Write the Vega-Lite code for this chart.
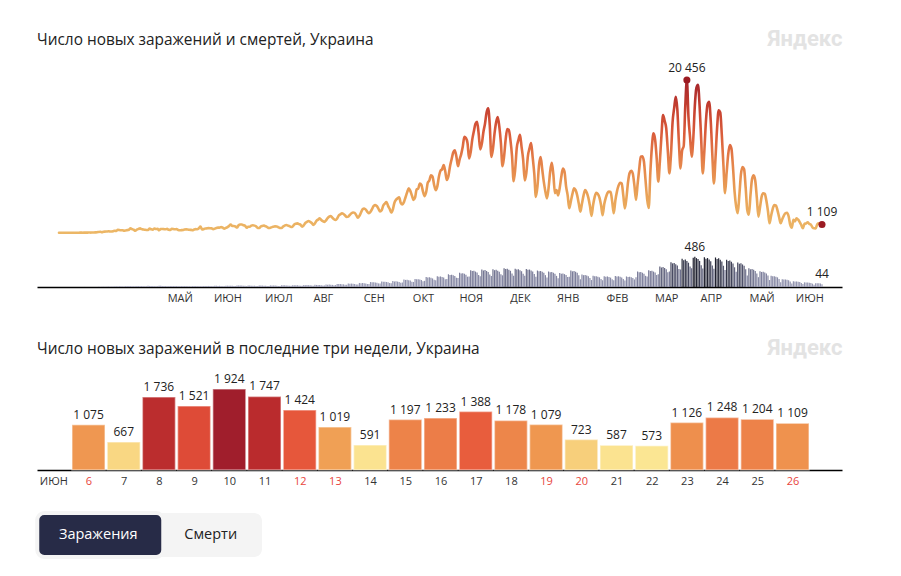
{
 "$schema": "https://vega.github.io/schema/vega-lite/v6.json",
 "padding": {"left": 35, "top": 27, "right": 10, "bottom": 5},
 "background": "white",
 "config": {
  "font": "Open Sans",
  "view": {"stroke": null},
  "locale": {"number": {"decimal": ",", "thousands": " ", "grouping": [3], "currency": ["", ""]}},
  "title": {"anchor": "start", "fontSize": 15.4, "fontWeight": "normal", "color": "#222222", "font": "Open Sans", "frame": "group"},
  "axis": {"grid": false, "ticks": false, "labelFont": "Open Sans", "labelFontSize": 11, "labelColor": "#333333", "domainColor": "#000000", "domainWidth": 1.5, "title": null},
  "legend": {"disable": true}
 },
 "datasets": {
  "caseMarks": [{"d":"2021-04-02","c":20456},{"d":"2021-06-26","c":1109}],
  "deathMarks": [{"d":"2021-04-07","m":486},{"d":"2021-06-26","m":44}],
  "buttons": [{"b":"Заражения"},{"b":"Смерти"}],
  "daily": [
{"d":"2020-03-03","c":1,"m":0},{"d":"2020-03-04","c":0,"m":0},{"d":"2020-03-05","c":0,"m":0},{"d":"2020-03-06","c":0,"m":0},{"d":"2020-03-07","c":0,"m":0},{"d":"2020-03-08","c":0,"m":0},
{"d":"2020-03-09","c":0,"m":0},{"d":"2020-03-10","c":0,"m":0},{"d":"2020-03-11","c":0,"m":0},{"d":"2020-03-12","c":0,"m":0},{"d":"2020-03-13","c":2,"m":1},{"d":"2020-03-14","c":0,"m":0},{"d":"2020-03-15","c":0,"m":0},
{"d":"2020-03-16","c":4,"m":0},{"d":"2020-03-17","c":7,"m":1},{"d":"2020-03-18","c":2,"m":0},{"d":"2020-03-19","c":10,"m":1},{"d":"2020-03-20","c":15,"m":0},{"d":"2020-03-21","c":6,"m":0},{"d":"2020-03-22","c":26,"m":1},
{"d":"2020-03-23","c":16,"m":1},{"d":"2020-03-24","c":34,"m":1},{"d":"2020-03-25","c":29,"m":2},{"d":"2020-03-26","c":43,"m":0},{"d":"2020-03-27","c":62,"m":2},{"d":"2020-03-28","c":100,"m":3},{"d":"2020-03-29","c":119,"m":2},
{"d":"2020-03-30","c":63,"m":4},{"d":"2020-03-31","c":133,"m":5},{"d":"2020-04-01","c":149,"m":3},{"d":"2020-04-02","c":157,"m":6},{"d":"2020-04-03","c":186,"m":8},{"d":"2020-04-04","c":171,"m":5},{"d":"2020-04-05","c":166,"m":6},
{"d":"2020-04-06","c":190,"m":7},{"d":"2020-04-07","c":255,"m":10},{"d":"2020-04-08","c":235,"m":12},{"d":"2020-04-09","c":374,"m":9},{"d":"2020-04-10","c":356,"m":11},{"d":"2020-04-11","c":321,"m":12},{"d":"2020-04-12","c":325,"m":8},
{"d":"2020-04-13","c":257,"m":10},{"d":"2020-04-14","c":304,"m":15},{"d":"2020-04-15","c":343,"m":13},{"d":"2020-04-16","c":397,"m":16},{"d":"2020-04-17","c":578,"m":14},{"d":"2020-04-18","c":477,"m":12},{"d":"2020-04-19","c":392,"m":11},
{"d":"2020-04-20","c":261,"m":11},{"d":"2020-04-21","c":415,"m":17},{"d":"2020-04-22","c":502,"m":15},{"d":"2020-04-23","c":578,"m":14},{"d":"2020-04-24","c":477,"m":16},{"d":"2020-04-25","c":433,"m":13},{"d":"2020-04-26","c":392,"m":12},
{"d":"2020-04-27","c":366,"m":12},{"d":"2020-04-28","c":376,"m":19},{"d":"2020-04-29","c":540,"m":17},{"d":"2020-04-30","c":455,"m":18},{"d":"2020-05-01","c":418,"m":15},{"d":"2020-05-02","c":550,"m":14},{"d":"2020-05-03","c":502,"m":11},
{"d":"2020-05-04","c":507,"m":13},{"d":"2020-05-05","c":325,"m":20},{"d":"2020-05-06","c":487,"m":19},{"d":"2020-05-07","c":504,"m":18},{"d":"2020-05-08","c":477,"m":17},{"d":"2020-05-09","c":457,"m":16},{"d":"2020-05-10","c":507,"m":13},
{"d":"2020-05-11","c":400,"m":11},{"d":"2020-05-12","c":375,"m":18},{"d":"2020-05-13","c":528,"m":17},{"d":"2020-05-14","c":484,"m":16},{"d":"2020-05-15","c":454,"m":17},{"d":"2020-05-16","c":481,"m":15},{"d":"2020-05-17","c":356,"m":12},
{"d":"2020-05-18","c":325,"m":11},{"d":"2020-05-19","c":340,"m":17},{"d":"2020-05-20","c":354,"m":16},{"d":"2020-05-21","c":416,"m":15},{"d":"2020-05-22","c":442,"m":16},{"d":"2020-05-23","c":432,"m":14},{"d":"2020-05-24","c":389,"m":12},
{"d":"2020-05-25","c":379,"m":10},{"d":"2020-05-26","c":328,"m":16},{"d":"2020-05-27","c":417,"m":15},{"d":"2020-05-28","c":477,"m":16},{"d":"2020-05-29","c":468,"m":14},{"d":"2020-05-30","c":600,"m":13},{"d":"2020-05-31","c":820,"m":11},
{"d":"2020-06-01","c":450,"m":11},{"d":"2020-06-02","c":480,"m":18},{"d":"2020-06-03","c":551,"m":17},{"d":"2020-06-04","c":577,"m":16},{"d":"2020-06-05","c":615,"m":17},{"d":"2020-06-06","c":604,"m":15},{"d":"2020-06-07","c":581,"m":13},
{"d":"2020-06-08","c":473,"m":12},{"d":"2020-06-09","c":541,"m":20},{"d":"2020-06-10","c":643,"m":19},{"d":"2020-06-11","c":680,"m":18},{"d":"2020-06-12","c":683,"m":19},{"d":"2020-06-13","c":753,"m":17},{"d":"2020-06-14","c":671,"m":14},
{"d":"2020-06-15","c":546,"m":13},{"d":"2020-06-16","c":638,"m":22},{"d":"2020-06-17","c":758,"m":21},{"d":"2020-06-18","c":883,"m":20},{"d":"2020-06-19","c":1106,"m":21},{"d":"2020-06-20","c":895,"m":19},{"d":"2020-06-21","c":894,"m":16},
{"d":"2020-06-22","c":836,"m":16},{"d":"2020-06-23","c":689,"m":26},{"d":"2020-06-24","c":1000,"m":25},{"d":"2020-06-25","c":1100,"m":24},{"d":"2020-06-26","c":1100,"m":24},{"d":"2020-06-27","c":1000,"m":22},{"d":"2020-06-28","c":950,"m":19},
{"d":"2020-06-29","c":654,"m":15},{"d":"2020-06-30","c":800,"m":24},{"d":"2020-07-01","c":800,"m":23},{"d":"2020-07-02","c":950,"m":22},{"d":"2020-07-03","c":1000,"m":22},{"d":"2020-07-04","c":950,"m":21},{"d":"2020-07-05","c":850,"m":17},
{"d":"2020-07-06","c":640,"m":15},{"d":"2020-07-07","c":630,"m":24},{"d":"2020-07-08","c":850,"m":23},{"d":"2020-07-09","c":900,"m":23},{"d":"2020-07-10","c":950,"m":22},{"d":"2020-07-11","c":860,"m":21},{"d":"2020-07-12","c":750,"m":17},
{"d":"2020-07-13","c":620,"m":15},{"d":"2020-07-14","c":650,"m":25},{"d":"2020-07-15","c":750,"m":24},{"d":"2020-07-16","c":800,"m":24},{"d":"2020-07-17","c":850,"m":23},{"d":"2020-07-18","c":830,"m":21},{"d":"2020-07-19","c":720,"m":18},
{"d":"2020-07-20","c":640,"m":17},{"d":"2020-07-21","c":620,"m":28},{"d":"2020-07-22","c":820,"m":27},{"d":"2020-07-23","c":950,"m":27},{"d":"2020-07-24","c":1030,"m":26},{"d":"2020-07-25","c":950,"m":24},{"d":"2020-07-26","c":880,"m":20},
{"d":"2020-07-27","c":760,"m":19},{"d":"2020-07-28","c":840,"m":30},{"d":"2020-07-29","c":1100,"m":29},{"d":"2020-07-30","c":1200,"m":29},{"d":"2020-07-31","c":1250,"m":28},{"d":"2020-08-01","c":1150,"m":26},{"d":"2020-08-02","c":1050,"m":22},
{"d":"2020-08-03","c":820,"m":20},{"d":"2020-08-04","c":1000,"m":32},{"d":"2020-08-05","c":1300,"m":30},{"d":"2020-08-06","c":1450,"m":31},{"d":"2020-08-07","c":1570,"m":29},{"d":"2020-08-08","c":1450,"m":28},{"d":"2020-08-09","c":1300,"m":23},
{"d":"2020-08-10","c":1030,"m":22},{"d":"2020-08-11","c":1250,"m":35},{"d":"2020-08-12","c":1600,"m":33},{"d":"2020-08-13","c":1750,"m":34},{"d":"2020-08-14","c":1930,"m":32},{"d":"2020-08-15","c":1700,"m":30},{"d":"2020-08-16","c":1550,"m":25},
{"d":"2020-08-17","c":1450,"m":25},{"d":"2020-08-18","c":1650,"m":40},{"d":"2020-08-19","c":1950,"m":38},{"d":"2020-08-20","c":2150,"m":39},{"d":"2020-08-21","c":2240,"m":37},{"d":"2020-08-22","c":2000,"m":34},{"d":"2020-08-23","c":1800,"m":29},
{"d":"2020-08-24","c":1700,"m":31},{"d":"2020-08-25","c":1900,"m":50},{"d":"2020-08-26","c":2300,"m":48},{"d":"2020-08-27","c":2450,"m":49},{"d":"2020-08-28","c":2600,"m":46},{"d":"2020-08-29","c":2500,"m":43},{"d":"2020-08-30","c":2300,"m":36},
{"d":"2020-08-31","c":2100,"m":35},{"d":"2020-09-01","c":2150,"m":57},{"d":"2020-09-02","c":2400,"m":54},{"d":"2020-09-03","c":2600,"m":55},{"d":"2020-09-04","c":2700,"m":52},{"d":"2020-09-05","c":2650,"m":49},{"d":"2020-09-06","c":2350,"m":41},
{"d":"2020-09-07","c":2000,"m":40},{"d":"2020-09-08","c":2250,"m":65},{"d":"2020-09-09","c":2700,"m":62},{"d":"2020-09-10","c":3150,"m":63},{"d":"2020-09-11","c":3250,"m":60},{"d":"2020-09-12","c":3100,"m":56},{"d":"2020-09-13","c":2800,"m":47},
{"d":"2020-09-14","c":2600,"m":50},{"d":"2020-09-15","c":2800,"m":80},{"d":"2020-09-16","c":3200,"m":76},{"d":"2020-09-17","c":3600,"m":78},{"d":"2020-09-18","c":3700,"m":74},{"d":"2020-09-19","c":3550,"m":69},{"d":"2020-09-20","c":3200,"m":58},
{"d":"2020-09-21","c":2850,"m":55},{"d":"2020-09-22","c":3000,"m":88},{"d":"2020-09-23","c":3650,"m":84},{"d":"2020-09-24","c":3900,"m":85},{"d":"2020-09-25","c":4100,"m":81},{"d":"2020-09-26","c":3600,"m":76},{"d":"2020-09-27","c":3200,"m":63},
{"d":"2020-09-28","c":2700,"m":59},{"d":"2020-09-29","c":3100,"m":95},{"d":"2020-09-30","c":4000,"m":90},{"d":"2020-10-01","c":4400,"m":92},{"d":"2020-10-02","c":4600,"m":87},{"d":"2020-10-03","c":4750,"m":82},{"d":"2020-10-04","c":4000,"m":68},
{"d":"2020-10-05","c":3800,"m":74},{"d":"2020-10-06","c":4100,"m":120},{"d":"2020-10-07","c":4750,"m":114},{"d":"2020-10-08","c":5400,"m":116},{"d":"2020-10-09","c":5950,"m":110},{"d":"2020-10-10","c":5600,"m":103},{"d":"2020-10-11","c":5000,"m":86},
{"d":"2020-10-12","c":4400,"m":81},{"d":"2020-10-13","c":4700,"m":130},{"d":"2020-10-14","c":5800,"m":124},{"d":"2020-10-15","c":5900,"m":126},{"d":"2020-10-16","c":6600,"m":120},{"d":"2020-10-17","c":6400,"m":112},{"d":"2020-10-18","c":5500,"m":94},
{"d":"2020-10-19","c":4900,"m":99},{"d":"2020-10-20","c":5450,"m":160},{"d":"2020-10-21","c":6700,"m":152},{"d":"2020-10-22","c":7000,"m":155},{"d":"2020-10-23","c":7700,"m":147},{"d":"2020-10-24","c":7500,"m":138},{"d":"2020-10-25","c":6400,"m":115},
{"d":"2020-10-26","c":5700,"m":109},{"d":"2020-10-27","c":6200,"m":175},{"d":"2020-10-28","c":7500,"m":166},{"d":"2020-10-29","c":8300,"m":170},{"d":"2020-10-30","c":8500,"m":161},{"d":"2020-10-31","c":9050,"m":151},{"d":"2020-11-01","c":8200,"m":126},
{"d":"2020-11-02","c":7050,"m":127},{"d":"2020-11-03","c":7600,"m":205},{"d":"2020-11-04","c":8900,"m":195},{"d":"2020-11-05","c":9850,"m":199},{"d":"2020-11-06","c":10750,"m":189},{"d":"2020-11-07","c":11050,"m":176},{"d":"2020-11-08","c":10200,"m":148},
{"d":"2020-11-09","c":8900,"m":143},{"d":"2020-11-10","c":9800,"m":230},{"d":"2020-11-11","c":10500,"m":219},{"d":"2020-11-12","c":11500,"m":223},{"d":"2020-11-13","c":12850,"m":212},{"d":"2020-11-14","c":12700,"m":198},{"d":"2020-11-15","c":12000,"m":166},
{"d":"2020-11-16","c":9950,"m":167},{"d":"2020-11-17","c":10800,"m":270},{"d":"2020-11-18","c":12500,"m":257},{"d":"2020-11-19","c":13600,"m":262},{"d":"2020-11-20","c":14600,"m":248},{"d":"2020-11-21","c":14850,"m":232},{"d":"2020-11-22","c":13300,"m":194},
{"d":"2020-11-23","c":11150,"m":174},{"d":"2020-11-24","c":11900,"m":280},{"d":"2020-11-25","c":13500,"m":266},{"d":"2020-11-26","c":14600,"m":272},{"d":"2020-11-27","c":16100,"m":258},{"d":"2020-11-28","c":16650,"m":241},{"d":"2020-11-29","c":14400,"m":202},
{"d":"2020-11-30","c":10150,"m":177},{"d":"2020-12-01","c":11200,"m":285},{"d":"2020-12-02","c":13300,"m":271},{"d":"2020-12-03","c":14800,"m":276},{"d":"2020-12-04","c":15500,"m":262},{"d":"2020-12-05","c":14200,"m":245},{"d":"2020-12-06","c":12000,"m":205},
{"d":"2020-12-07","c":8900,"m":188},{"d":"2020-12-08","c":10200,"m":303},{"d":"2020-12-09","c":12500,"m":288},{"d":"2020-12-10","c":13900,"m":294},{"d":"2020-12-11","c":13750,"m":279},{"d":"2020-12-12","c":12400,"m":261},{"d":"2020-12-13","c":10300,"m":218},
{"d":"2020-12-14","c":6900,"m":183},{"d":"2020-12-15","c":8500,"m":295},{"d":"2020-12-16","c":11400,"m":280},{"d":"2020-12-17","c":12400,"m":286},{"d":"2020-12-18","c":13100,"m":271},{"d":"2020-12-19","c":11500,"m":254},{"d":"2020-12-20","c":9800,"m":212},
{"d":"2020-12-21","c":7000,"m":180},{"d":"2020-12-22","c":8000,"m":290},{"d":"2020-12-23","c":10300,"m":276},{"d":"2020-12-24","c":11300,"m":281},{"d":"2020-12-25","c":12000,"m":267},{"d":"2020-12-26","c":10100,"m":249},{"d":"2020-12-27","c":7900,"m":209},
{"d":"2020-12-28","c":4800,"m":164},{"d":"2020-12-29","c":6200,"m":265},{"d":"2020-12-30","c":9100,"m":252},{"d":"2020-12-31","c":10150,"m":257},{"d":"2021-01-01","c":8500,"m":244},{"d":"2021-01-02","c":6800,"m":228},{"d":"2021-01-03","c":5500,"m":191},
{"d":"2021-01-04","c":4600,"m":154},{"d":"2021-01-05","c":6000,"m":248},{"d":"2021-01-06","c":8200,"m":236},{"d":"2021-01-07","c":9350,"m":241},{"d":"2021-01-08","c":7800,"m":228},{"d":"2021-01-09","c":5300,"m":213},{"d":"2021-01-10","c":5700,"m":179},
{"d":"2021-01-11","c":5000,"m":140},{"d":"2021-01-12","c":6000,"m":225},{"d":"2021-01-13","c":7500,"m":214},{"d":"2021-01-14","c":8600,"m":218},{"d":"2021-01-15","c":8200,"m":207},{"d":"2021-01-16","c":6200,"m":194},{"d":"2021-01-17","c":5000,"m":162},
{"d":"2021-01-18","c":3270,"m":164},{"d":"2021-01-19","c":4200,"m":265},{"d":"2021-01-20","c":5200,"m":252},{"d":"2021-01-21","c":5950,"m":257},{"d":"2021-01-22","c":5700,"m":244},{"d":"2021-01-23","c":5000,"m":228},{"d":"2021-01-24","c":3900,"m":191},
{"d":"2021-01-25","c":2800,"m":124},{"d":"2021-01-26","c":3900,"m":200},{"d":"2021-01-27","c":5000,"m":190},{"d":"2021-01-28","c":5700,"m":194},{"d":"2021-01-29","c":5400,"m":184},{"d":"2021-01-30","c":4700,"m":172},{"d":"2021-01-31","c":3600,"m":144},
{"d":"2021-02-01","c":2250,"m":112},{"d":"2021-02-02","c":3700,"m":180},{"d":"2021-02-03","c":4800,"m":171},{"d":"2021-02-04","c":5350,"m":175},{"d":"2021-02-05","c":5200,"m":166},{"d":"2021-02-06","c":4700,"m":155},{"d":"2021-02-07","c":3700,"m":130},
{"d":"2021-02-08","c":2350,"m":109},{"d":"2021-02-09","c":3800,"m":175},{"d":"2021-02-10","c":4700,"m":166},{"d":"2021-02-11","c":5300,"m":170},{"d":"2021-02-12","c":5500,"m":161},{"d":"2021-02-13","c":5450,"m":151},{"d":"2021-02-14","c":4200,"m":126},
{"d":"2021-02-15","c":2600,"m":110},{"d":"2021-02-16","c":4300,"m":178},{"d":"2021-02-17","c":5500,"m":169},{"d":"2021-02-18","c":6300,"m":173},{"d":"2021-02-19","c":6700,"m":164},{"d":"2021-02-20","c":6600,"m":153},{"d":"2021-02-21","c":5000,"m":128},
{"d":"2021-02-22","c":3250,"m":105},{"d":"2021-02-23","c":4700,"m":170},{"d":"2021-02-24","c":6800,"m":162},{"d":"2021-02-25","c":8000,"m":165},{"d":"2021-02-26","c":8300,"m":156},{"d":"2021-02-27","c":7900,"m":146},{"d":"2021-02-28","c":6300,"m":122},
{"d":"2021-03-01","c":4400,"m":155},{"d":"2021-03-02","c":6500,"m":250},{"d":"2021-03-03","c":8500,"m":238},{"d":"2021-03-04","c":10200,"m":243},{"d":"2021-03-05","c":10250,"m":230},{"d":"2021-03-06","c":9500,"m":215},{"d":"2021-03-07","c":7000,"m":180},
{"d":"2021-03-08","c":4500,"m":167},{"d":"2021-03-09","c":3300,"m":270},{"d":"2021-03-10","c":8000,"m":257},{"d":"2021-03-11","c":11500,"m":262},{"d":"2021-03-12","c":13300,"m":248},{"d":"2021-03-13","c":12500,"m":232},{"d":"2021-03-14","c":10000,"m":194},
{"d":"2021-03-15","c":6850,"m":205},{"d":"2021-03-16","c":9500,"m":330},{"d":"2021-03-17","c":13000,"m":314},{"d":"2021-03-18","c":15750,"m":320},{"d":"2021-03-19","c":15000,"m":304},{"d":"2021-03-20","c":14000,"m":284},{"d":"2021-03-21","c":11000,"m":238},
{"d":"2021-03-22","c":7950,"m":248},{"d":"2021-03-23","c":10500,"m":400},{"d":"2021-03-24","c":14800,"m":380},{"d":"2021-03-25","c":16700,"m":388},{"d":"2021-03-26","c":18200,"m":368},{"d":"2021-03-27","c":16500,"m":344},{"d":"2021-03-28","c":12000,"m":288},
{"d":"2021-03-29","c":8600,"m":282},{"d":"2021-03-30","c":11000,"m":455},{"d":"2021-03-31","c":11600,"m":432},{"d":"2021-04-01","c":17000,"m":441},{"d":"2021-04-02","c":20456,"m":419},{"d":"2021-04-03","c":15500,"m":391},{"d":"2021-04-04","c":12800,"m":328},
{"d":"2021-04-05","c":10180,"m":300},{"d":"2021-04-06","c":12500,"m":470},{"d":"2021-04-07","c":17000,"m":486},{"d":"2021-04-08","c":19400,"m":465},{"d":"2021-04-09","c":19800,"m":450},{"d":"2021-04-10","c":17000,"m":420},{"d":"2021-04-11","c":12500,"m":350},
{"d":"2021-04-12","c":7950,"m":298},{"d":"2021-04-13","c":11000,"m":480},{"d":"2021-04-14","c":15000,"m":456},{"d":"2021-04-15","c":17200,"m":466},{"d":"2021-04-16","c":17550,"m":442},{"d":"2021-04-17","c":15000,"m":413},{"d":"2021-04-18","c":10500,"m":346},
{"d":"2021-04-19","c":6600,"m":295},{"d":"2021-04-20","c":10000,"m":475},{"d":"2021-04-21","c":14000,"m":451},{"d":"2021-04-22","c":16400,"m":461},{"d":"2021-04-23","c":16100,"m":437},{"d":"2021-04-24","c":13000,"m":409},{"d":"2021-04-25","c":9000,"m":342},
{"d":"2021-04-26","c":5300,"m":273},{"d":"2021-04-27","c":8000,"m":440},{"d":"2021-04-28","c":10500,"m":418},{"d":"2021-04-29","c":11750,"m":427},{"d":"2021-04-30","c":11300,"m":405},{"d":"2021-05-01","c":8800,"m":378},{"d":"2021-05-02","c":5500,"m":317},
{"d":"2021-05-03","c":3500,"m":245},{"d":"2021-05-04","c":2600,"m":395},{"d":"2021-05-05","c":5000,"m":375},{"d":"2021-05-06","c":7800,"m":383},{"d":"2021-05-07","c":8800,"m":363},{"d":"2021-05-08","c":8500,"m":340},{"d":"2021-05-09","c":6000,"m":284},
{"d":"2021-05-10","c":3000,"m":186},{"d":"2021-05-11","c":2400,"m":300},{"d":"2021-05-12","c":5000,"m":285},{"d":"2021-05-13","c":7200,"m":291},{"d":"2021-05-14","c":7700,"m":276},{"d":"2021-05-15","c":7000,"m":258},{"d":"2021-05-16","c":4700,"m":216},
{"d":"2021-05-17","c":2150,"m":158},{"d":"2021-05-18","c":3400,"m":255},{"d":"2021-05-19","c":4800,"m":242},{"d":"2021-05-20","c":5280,"m":247},{"d":"2021-05-21","c":5200,"m":235},{"d":"2021-05-22","c":4300,"m":219},{"d":"2021-05-23","c":2900,"m":184},
{"d":"2021-05-24","c":1260,"m":112},{"d":"2021-05-25","c":2300,"m":180},{"d":"2021-05-26","c":3200,"m":171},{"d":"2021-05-27","c":3700,"m":175},{"d":"2021-05-28","c":3650,"m":166},{"d":"2021-05-29","c":3000,"m":155},{"d":"2021-05-30","c":2100,"m":130},
{"d":"2021-05-31","c":1260,"m":78},{"d":"2021-06-01","c":1800,"m":125},{"d":"2021-06-02","c":2300,"m":119},{"d":"2021-06-03","c":2600,"m":121},{"d":"2021-06-04","c":2680,"m":115},{"d":"2021-06-05","c":2200,"m":108},{"d":"2021-06-06","c":1075,"m":90},
{"d":"2021-06-07","c":667,"m":57},{"d":"2021-06-08","c":1736,"m":92},{"d":"2021-06-09","c":1521,"m":87},{"d":"2021-06-10","c":1924,"m":89},{"d":"2021-06-11","c":1747,"m":85},{"d":"2021-06-12","c":1424,"m":79},{"d":"2021-06-13","c":1019,"m":66},
{"d":"2021-06-14","c":591,"m":47},{"d":"2021-06-15","c":1197,"m":75},{"d":"2021-06-16","c":1233,"m":71},{"d":"2021-06-17","c":1388,"m":73},{"d":"2021-06-18","c":1178,"m":69},{"d":"2021-06-19","c":1079,"m":65},{"d":"2021-06-20","c":723,"m":54},
{"d":"2021-06-21","c":587,"m":38},{"d":"2021-06-22","c":573,"m":62},{"d":"2021-06-23","c":1126,"m":59},{"d":"2021-06-24","c":1248,"m":60},{"d":"2021-06-25","c":1204,"m":57},{"d":"2021-06-26","c":1109,"m":44}
  ]
 },
 "spacing": 33,
 "resolve": {"scale": {"x": "independent", "y": "independent", "color": "independent"}},
 "vconcat": [
  {
   "width": 805, "height": 227,
   "title": {"text": "Число новых заражений и смертей, Украина", "offset": -21},
   "layer": [
    {"layer": [
     {"data": {"name": "daily"},
      "mark": {"type": "line", "interpolate": "monotone", "strokeWidth": 2.6, "strokeCap": "round", "strokeJoin": "round",
       "color": {"gradient": "linear", "x1": 0, "y1": 1, "x2": 0, "y2": 0, "stops": [
        {"offset": 0, "color": "#ecb766"}, {"offset": 0.25, "color": "#e9a257"}, {"offset": 0.45, "color": "#e5844a"},
        {"offset": 0.65, "color": "#da5c3b"}, {"offset": 0.82, "color": "#c54030"}, {"offset": 1, "color": "#a3232a"}]}},
      "encoding": {
       "x": {"field": "d", "type": "temporal",
        "scale": {"type": "utc", "padding": 0, "domain": [{"year": 2020, "month": 2, "date": 18, "hours": 4, "utc": true}, {"year": 2021, "month": 7, "date": 8, "hours": 14, "utc": true}]},
        "axis": {
         "values": [
          {"year": 2020, "month": 5, "date": 18, "utc": true}, {"year": 2020, "month": 6, "date": 17, "utc": true},
          {"year": 2020, "month": 7, "date": 19, "utc": true}, {"year": 2020, "month": 8, "date": 16, "utc": true},
          {"year": 2020, "month": 9, "date": 17, "utc": true}, {"year": 2020, "month": 10, "date": 18, "utc": true},
          {"year": 2020, "month": 11, "date": 17, "utc": true}, {"year": 2020, "month": 12, "date": 18, "utc": true},
          {"year": 2021, "month": 1, "date": 17, "utc": true}, {"year": 2021, "month": 2, "date": 17, "utc": true},
          {"year": 2021, "month": 3, "date": 20, "utc": true}, {"year": 2021, "month": 4, "date": 17, "utc": true},
          {"year": 2021, "month": 5, "date": 19, "utc": true}, {"year": 2021, "month": 6, "date": 18, "utc": true}],
         "labelExpr": "['ЯНВ','ФЕВ','МАР','АПР','МАЙ','ИЮН','ИЮЛ','АВГ','СЕН','ОКТ','НОЯ','ДЕК'][utcmonth(datum.value)]",
         "labelPadding": 5, "labelOverlap": false, "labelFlush": false}},
       "y": {"field": "c", "type": "quantitative", "scale": {"domain": [-7274, 23135], "nice": false, "zero": false},
        "axis": {"orient": "right", "labels": false, "ticks": false, "domain": false, "grid": false, "title": "Яндекс",
         "titleAngle": 0, "titleAlign": "right", "titleBaseline": "middle", "titleX": 0, "titleY": -22,
         "titleColor": "#e3e3e3", "titleFont": "Roboto", "titleFontSize": 22, "titleFontWeight": "bold", "minExtent": 0}}
      }},
     {"data": {"name": "caseMarks"},
      "mark": {"type": "point", "filled": true, "size": 50, "color": "#9b1b22", "opacity": 1},
      "encoding": {
       "x": {"field": "d", "type": "temporal"},
       "y": {"field": "c", "type": "quantitative"}}},
     {"data": {"name": "caseMarks"},
      "mark": {"type": "text", "baseline": "bottom", "dy": -5, "fontSize": 12, "color": "#222222"},
      "encoding": {
       "x": {"field": "d", "type": "temporal"},
       "y": {"field": "c", "type": "quantitative"},
       "text": {"field": "c", "type": "quantitative", "format": ",d"}}}
    ]},
    {"layer": [
     {"data": {"name": "daily"},
      "mark": {"type": "bar", "width": 1.2},
      "encoding": {
       "x": {"field": "d", "type": "temporal"},
       "y": {"field": "m", "type": "quantitative", "scale": {"domain": [0, 3653], "nice": false}, "axis": null},
       "color": {"field": "m", "type": "quantitative", "scale": {"domain": [0, 250, 420, 486], "range": ["#9fa1bb", "#7c7e9b", "#3a3c52", "#1b1c28"]}, "legend": null}}},
     {"data": {"name": "deathMarks"},
      "mark": {"type": "text", "baseline": "bottom", "dy": -3, "fontSize": 12, "color": "#222222"},
      "encoding": {
       "x": {"field": "d", "type": "temporal"},
       "y": {"field": "m", "type": "quantitative"},
       "text": {"field": "m", "type": "quantitative", "format": ",d"}}}
    ]}
   ],
   "resolve": {"scale": {"y": "independent", "color": "independent"}}
  },
  {
   "spacing": 25,
   "resolve": {"scale": {"x": "independent", "y": "independent", "color": "independent"}},
   "vconcat": [
    {
     "width": 805, "height": 96,
     "title": {"text": "Число новых заражений в последние три недели, Украина", "offset": -21},
     "data": {"name": "daily"},
     "transform": [{"filter": "time(datum.d) >= utc(2021, 5, 6)"}],
     "encoding": {
      "x": {"field": "d", "type": "temporal",
       "scale": {"type": "utc", "padding": 0, "domain": [{"year": 2021, "month": 6, "date": 4, "hours": 12, "minutes": 53, "utc": true}, {"year": 2021, "month": 6, "date": 27, "hours": 9, "minutes": 45, "utc": true}]},
       "axis": {
        "values": [
         {"year": 2021, "month": 6, "date": 5, "utc": true}, {"year": 2021, "month": 6, "date": 6, "utc": true},
         {"year": 2021, "month": 6, "date": 7, "utc": true}, {"year": 2021, "month": 6, "date": 8, "utc": true},
         {"year": 2021, "month": 6, "date": 9, "utc": true}, {"year": 2021, "month": 6, "date": 10, "utc": true},
         {"year": 2021, "month": 6, "date": 11, "utc": true}, {"year": 2021, "month": 6, "date": 12, "utc": true},
         {"year": 2021, "month": 6, "date": 13, "utc": true}, {"year": 2021, "month": 6, "date": 14, "utc": true},
         {"year": 2021, "month": 6, "date": 15, "utc": true}, {"year": 2021, "month": 6, "date": 16, "utc": true},
         {"year": 2021, "month": 6, "date": 17, "utc": true}, {"year": 2021, "month": 6, "date": 18, "utc": true},
         {"year": 2021, "month": 6, "date": 19, "utc": true}, {"year": 2021, "month": 6, "date": 20, "utc": true},
         {"year": 2021, "month": 6, "date": 21, "utc": true}, {"year": 2021, "month": 6, "date": 22, "utc": true},
         {"year": 2021, "month": 6, "date": 23, "utc": true}, {"year": 2021, "month": 6, "date": 24, "utc": true},
         {"year": 2021, "month": 6, "date": 25, "utc": true}, {"year": 2021, "month": 6, "date": 26, "utc": true}],
        "labelExpr": "utcdate(datum.value) == 5 ? 'ИЮН' : '' + utcdate(datum.value)",
        "labelColor": {"condition": {"test": "utcdate(datum.value) > 5 && (utcday(datum.value) == 0 || utcday(datum.value) == 6)", "value": "#e8453c"}, "value": "#333333"},
        "labelPadding": 5, "labelOverlap": false, "labelFlush": false}}
     },
     "layer": [
      {"mark": {"type": "bar", "width": 33, "stroke": "#ffffff", "strokeOpacity": 0.45, "strokeWidth": 1.5},
       "encoding": {
        "y": {"field": "c", "type": "quantitative", "scale": {"domain": [0, 2280], "nice": false},
         "axis": {"orient": "right", "labels": false, "ticks": false, "domain": false, "grid": false, "title": "Яндекс",
          "titleAngle": 0, "titleAlign": "right", "titleBaseline": "middle", "titleX": 0, "titleY": -27,
          "titleColor": "#e3e3e3", "titleFont": "Roboto", "titleFontSize": 22, "titleFontWeight": "bold", "minExtent": 0}},
        "color": {"field": "c", "type": "quantitative",
         "scale": {"domain": [650, 1000, 1250, 1400, 1550, 1750, 1924], "range": ["#f9da86", "#f0a357", "#ec7a47", "#e85a3c", "#dc4736", "#b92b2d", "#a01e2c"]},
         "legend": null}}},
      {"mark": {"type": "text", "baseline": "bottom", "dy": -3, "fontSize": 12, "color": "#222222"},
       "encoding": {
        "y": {"field": "c", "type": "quantitative"},
        "text": {"field": "c", "type": "quantitative", "format": ",d"}}}
     ]
    },
    {
     "width": 225, "height": 44,
     "view": {"fill": "#f4f4f4", "cornerRadius": 8, "stroke": null},
     "data": {"name": "buttons"},
     "encoding": {"x": {"field": "b", "type": "nominal", "sort": null, "scale": {"paddingInner": 0, "paddingOuter": 0}, "axis": null}},
     "layer": [
      {"transform": [{"filter": "datum.b == 'Заражения'"}],
       "mark": {"type": "bar", "cornerRadius": 7, "color": "#272b47", "stroke": "#f4f4f4", "strokeWidth": 4, "width": 126, "xOffset": 7}},
      {"mark": {"type": "text", "fontSize": 14.5, "dx": 5},
       "encoding": {
        "text": {"field": "b", "type": "nominal"},
        "color": {"condition": {"test": "datum.b == 'Заражения'", "value": "#ffffff"}, "value": "#222222"}}}
     ]
    }
   ]
  }
 ]
}
